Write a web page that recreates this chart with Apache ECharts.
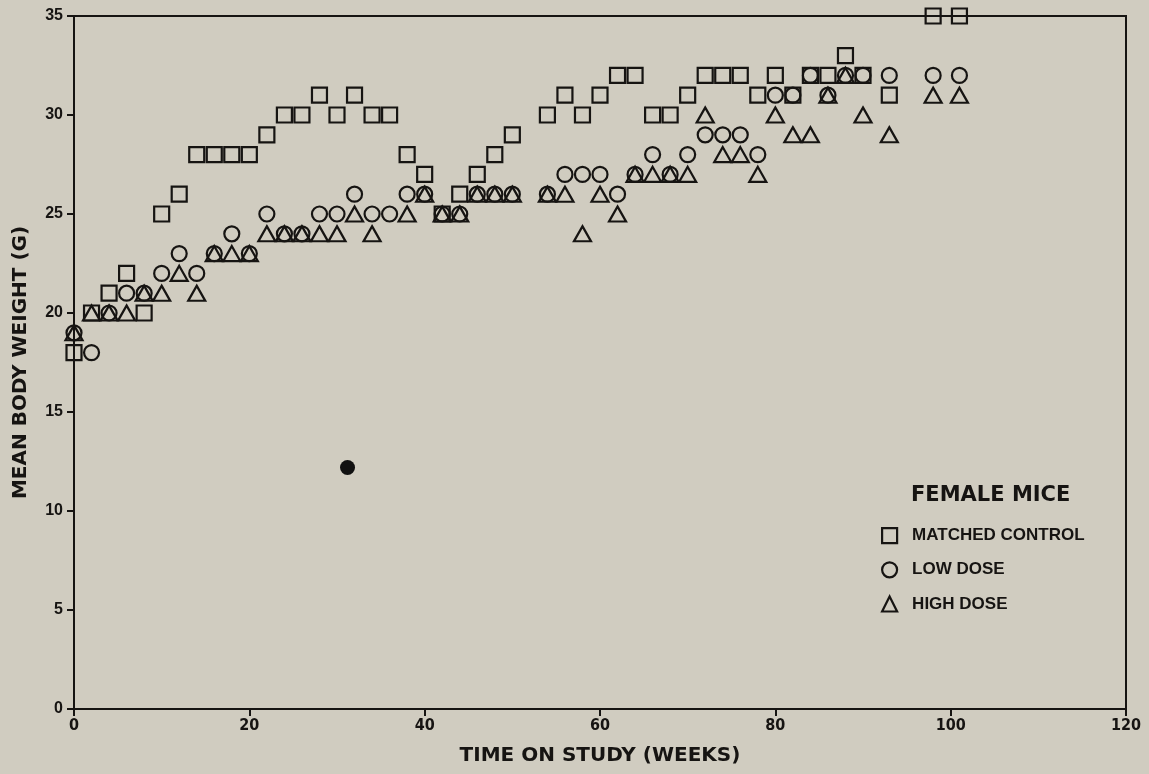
<!DOCTYPE html>
<html>
<head>
<meta charset="utf-8">
<script src="https://cdn.jsdelivr.net/npm/echarts@6/dist/echarts.min.js"></script>
<style>
html,body{margin:0;padding:0;background:#d0ccc0;}
#chart{width:1149px;height:774px;}
</style>
</head>
<body>
<div id="chart"></div>
<script>
var weeks = [0,2,4,6,8,10,12,14,16,18,20,22,24,26,28,30,32,34,36,38,40,42,44,46,48,50,
             54,56,58,60,62,64,66,68,70,72,74,76,78,80,82,84,86,88,90,93,98,101];
var matchedControl = [18,20,21,22,20,25,26,28,28,28,28,29,30,30,31,30,31,30,30,28,27,25,26,27,28,29,
                      30,31,30,31,32,32,30,30,31,32,32,32,31,32,31,32,32,33,32,31,35,35];
var lowDose = [19,18,20,21,21,22,23,22,23,24,23,25,24,24,25,25,26,25,25,26,26,25,25,26,26,26,
               26,27,27,27,26,27,28,27,28,29,29,29,28,31,31,32,31,32,32,32,32,32];
var highDose = [19,20,20,20,21,21,22,21,23,23,23,24,24,24,24,24,25,24,null,25,26,25,25,26,26,26,
                26,26,24,26,25,27,27,27,27,30,28,28,27,30,29,29,31,32,30,29,31,31];
var dotX = [31.2];
var dotY = [12.2];
var seriesNames = ['MATCHED CONTROL','LOW DOSE','HIGH DOSE'];
var legendTitle = 'FEMALE MICE';
var xTitle = 'TIME ON STUDY (WEEKS)';
var yTitle = 'MEAN BODY WEIGHT (G)';

function pairs(xs, ys){
  var out = [];
  for (var i=0;i<xs.length;i++){ if (ys[i]!=null) out.push([xs[i], ys[i]]); }
  return out;
}
var ink = '#161412';
var hollow = {color:'rgba(0,0,0,0)', borderColor: ink, borderWidth: 2.2, opacity:1};

var chart = echarts.init(document.getElementById('chart'));
chart.setOption({
  backgroundColor:'#d0ccc0',
  animation:false,
  grid:{left:74, right:23, top:16, bottom:65, show:true, borderColor:ink, borderWidth:2, backgroundColor:'transparent'},
  title:{text:legendTitle, left:906, top:480,
    textStyle:{fontFamily:'DejaVu Sans', fontWeight:'bold', fontSize:21, color:ink}},
  legend:{orient:'vertical', left:876, top:522, itemWidth:15, itemHeight:15, itemGap:17,
    data:seriesNames,
    textStyle:{fontFamily:'Liberation Sans, Arial', fontWeight:'bold', fontSize:17, color:ink, padding:[0,0,0,10]},
    itemStyle:{color:'rgba(0,0,0,0)', borderColor:ink, borderWidth:2.2, opacity:1}},
  xAxis:{type:'value', min:0, max:120, interval:20,
    name:xTitle, nameLocation:'middle', nameGap:37,
    nameTextStyle:{fontFamily:'DejaVu Sans', fontWeight:'bold', fontSize:20, color:ink},
    axisLine:{lineStyle:{color:ink, width:2}},
    axisTick:{show:true, inside:false, length:7, lineStyle:{color:ink, width:2}},
    axisLabel:{fontFamily:'Liberation Sans Narrow, DejaVu Sans Condensed, sans-serif', fontWeight:'bold', fontSize:16, color:ink, margin:9},
    splitLine:{show:false}},
  yAxis:{type:'value', min:0, max:35, interval:5,
    name:yTitle, nameLocation:'middle', nameGap:43, nameRotate:90,
    nameTextStyle:{fontFamily:'DejaVu Sans', fontWeight:'bold', fontSize:20, color:ink},
    axisLine:{lineStyle:{color:ink, width:2}},
    axisTick:{show:true, inside:false, length:7, lineStyle:{color:ink, width:2}},
    axisLabel:{fontFamily:'Liberation Sans, Arial', fontWeight:'bold', fontSize:16, color:ink, margin:11},
    splitLine:{show:false}},
  series:[
    {name:seriesNames[0], type:'scatter', symbol:'rect', symbolSize:15, itemStyle:hollow, data:pairs(weeks, matchedControl)},
    {name:seriesNames[1], type:'scatter', symbol:'circle', symbolSize:15, itemStyle:hollow, data:pairs(weeks, lowDose)},
    {name:seriesNames[2], type:'scatter', symbol:'triangle', symbolSize:[17,15], itemStyle:hollow, data:pairs(weeks, highDose)},
    {name:'dot', type:'scatter', symbol:'circle', symbolSize:15, itemStyle:{color:'#111', opacity:1}, data:pairs(dotX, dotY)}
  ]
});
</script>
</body>
</html>
